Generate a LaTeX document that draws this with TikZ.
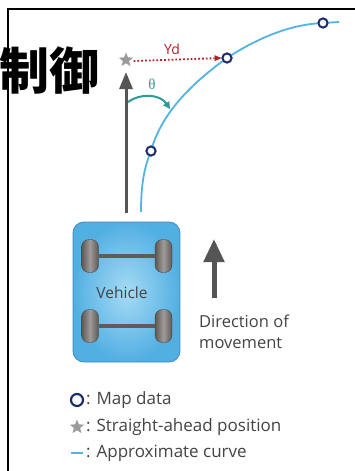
\documentclass[tikz,border=0pt]{standalone}
\usepackage{fontspec}
\setmainfont{Open Sans}
\newfontfamily\cjk{Noto Sans CJK JP}
\newfontfamily\grk{Liberation Serif}
\usetikzlibrary{shapes.geometric,arrows.meta}
\definecolor{curveblue}{HTML}{52B4DF}
\definecolor{mapnavy}{HTML}{1B2C6E}
\definecolor{stargray}{HTML}{9A9A9A}
\definecolor{arrowgray}{HTML}{555555}
\definecolor{ydred}{HTML}{B0242A}
\definecolor{thetateal}{HTML}{2E9C93}
\definecolor{textgray}{HTML}{444444}
\definecolor{bodyin}{HTML}{A6DBF5}
\definecolor{bodyout}{HTML}{52AFE2}
\definecolor{bodyedge}{HTML}{3A8CC4}
\definecolor{tyre}{HTML}{6A6662}
\tikzset{
  mappt/.style={circle,draw=mapnavy,fill=white,line width=1.9pt,minimum size=9pt,inner sep=0pt},
  aheadstar/.style={star,star points=5,star point ratio=2.3,fill=stargray,minimum size=15pt,inner sep=0pt},
  tyrebox/.style={rounded corners=7.5pt,draw=tyre!70!black,line width=0.4pt,left color=tyre!85!black,right color=tyre!85!black,middle color=tyre!65!white,minimum width=17pt,minimum height=33pt,inner sep=0pt},
  axle/.style={line width=3.5pt,draw=tyre!90!black},
  txt/.style={text=textgray,font=\fontsize{16.5}{20.5}\selectfont,inner sep=0pt},
  legtxt/.style={txt,font=\fontsize{17}{20}\selectfont},
}
\begin{document}
\begin{tikzpicture}[x=1pt,y=-1pt]
\useasboundingbox (0,0) rectangle (354,471);
\fill[white] (0,0) rectangle (354,471);
% frame
\draw[line width=2pt,black] (7.5,480) -- (7.5,9) -- (360,9);
% title
\node[font=\cjk\bfseries\fontsize{50}{50}\selectfont,inner sep=0pt] (title) at (49,70) {制御};

% vehicle body
\node[draw=bodyedge,line width=0.8pt,rounded corners=11pt,inner color=bodyin,outer color=bodyout,
      minimum width=107pt,minimum height=140pt] (body) at (126.5,292) {};
\node[txt,font=\fontsize{15.5}{18}\selectfont] (vlabel) at (122,293) {Vehicle};
\node[tyrebox] (w1) at (90,256) {};
\node[tyrebox] (w2) at (163.5,256) {};
\node[tyrebox] (w3) at (90,326) {};
\node[tyrebox] (w4) at (163.5,326) {};
\draw[axle] (w1.east) -- (w2.west);
\draw[axle] (w3.east) -- (w4.west);

% straight-ahead arrow and position
\coordinate (tail) at (126,213);
\node[aheadstar] (star) at (126,60) {};
\draw[arrowgray,line width=3pt,-{Triangle[width=13pt,length=17pt]}] (tail) -- (126,72);

% approximate curve through map data
\coordinate (c0) at (141,212);
\node[mappt] (m1) at (151,151) {};
\node[mappt] (m2) at (227,58) {};
\node[mappt] (m3) at (323,23) {};
\coordinate (c4) at (339,22);
\draw[curveblue,line width=1.8pt] (c0) .. controls (141,185) and (144,168) .. (m1.center)
  .. controls (160,118) and (185,88) .. (m2.center)
  .. controls (262,35) and (295,24) .. (m3.center) -- (c4);
\node[mappt] at (m1) {};
\node[mappt] at (m2) {};
\node[mappt] at (m3) {};

% lateral offset
\draw[ydred,line width=1.8pt,dotted,-{Triangle[width=6pt,length=7pt,line width=0pt]}] (star.east) ++(3,1) -- (m2.west);
\node[text=ydred,font=\fontsize{14}{14}\selectfont,inner sep=0pt] (yd) at (172,49) {Yd};

% heading angle
\coordinate (th0) at (128,102);
\coordinate (th1) at (170,109);
\draw[thetateal,line width=2pt,-{Triangle[width=7pt,length=7pt]}] (th0) .. controls (140,93) and (160,94) .. (th1);
\node[text=thetateal,font=\grk\fontsize{15}{15}\selectfont,inner sep=0pt] (theta) at (152,84) {θ};

% direction of movement
\coordinate (d0) at (214,298);
\coordinate (d1) at (239,239);
\draw[arrowgray,line width=5pt,-{Triangle[width=20pt,length=23pt]}] (d0) -- (d0 |- d1);
\node[txt,anchor=north west,align=left] (dir) at (199,315) {Direction of\\movement};

% legend
\node[mappt,minimum size=12pt,line width=2.2pt] (lg1) at (77,400) {};
\node[legtxt,anchor=west] (lt1) at (86,400) {: Map data};
\node[aheadstar,minimum size=15pt] (lg2) at (77,427) {};
\node[legtxt,anchor=west] (lt2) at (86,427) {: Straight-ahead position};
\coordinate (lg3a) at (71,453);
\coordinate (lg3b) at (83,453);
\draw[curveblue,line width=2.2pt] (lg3a) -- (lg3b);
\node[legtxt,anchor=west] (lt3) at (86,453) {: Approximate curve};
\end{tikzpicture}
\end{document}
